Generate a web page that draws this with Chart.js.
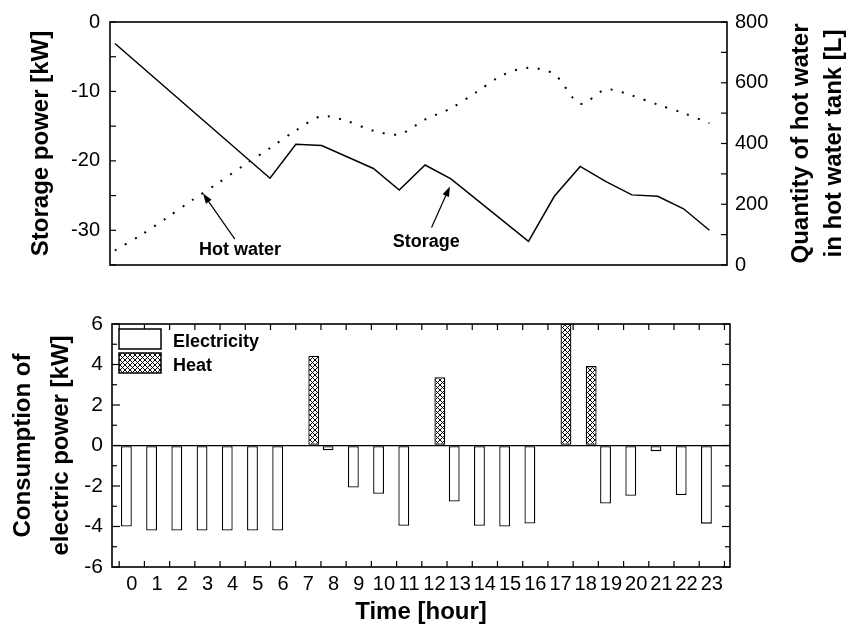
<!DOCTYPE html>
<html>
<head>
<meta charset="utf-8">
<script src="https://cdn.jsdelivr.net/npm/chart.js@4.4.0/dist/chart.umd.min.js"></script>
<style>
  html, body { margin: 0; padding: 0; background: #fff; }
  #wrap { position: relative; width: 849px; height: 632px; }
  #top { position: absolute; left: 0; top: 0; }
  #bottom { position: absolute; left: 0; top: 290px; }
</style>
</head>
<body>
<div id="wrap">
  <canvas id="top" width="849" height="290"></canvas>
  <canvas id="bottom" width="849" height="342"></canvas>
</div>
<script>
// hours of the day
var hours = [0, 1, 2, 3, 4, 5, 6, 7, 8, 9, 10, 11, 12, 13, 14, 15, 16, 17, 18, 19, 20, 21, 22, 23];

// top chart: storage power (vertices of the solid line) and hot water in tank
var storageHours = [0, 6, 7, 8, 10, 11, 12, 13, 16, 17, 18, 19, 20, 21, 22, 23];
var storagePower = [-3.1, -22.5, -17.6, -17.8, -21.1, -24.2, -20.6, -22.6, -31.6, -25.1, -20.8, -23.0, -24.9, -25.1, -26.9, -30.0];
var hotWater = [48, 98, 155, 214, 270, 329, 385, 443, 490, 473, 442, 430, 479, 516, 570, 625, 649, 628, 531, 578, 558, 528, 500, 467];
var storageTicks = [0, -10, -20, -30];
var waterTicks = [0, 200, 400, 600, 800];

// bottom chart: consumption of electric power
var electricity = [-4.0, -4.2, -4.2, -4.2, -4.2, -4.2, -4.2, 0, -0.23, -2.08, -2.38, -3.96, 0, -2.77, -3.96, -4.0, -3.85, 0, 0, -2.87, -2.48, -0.28, -2.45, -3.86];
var heat = [0, 0, 0, 0, 0, 0, 0, 4.43, 0, 0, 0, 0, 3.37, 0, 0, 0, 0, 6.0, 3.92, 0, 0, 0, 0, 0];
var powerTicks = [-6, -4, -2, 0, 2, 4, 6];

Chart.defaults.font.family = "'Liberation Sans', Arial, Helvetica, sans-serif";
Chart.defaults.color = '#000';

function toPoints(xs, ys) {
    return xs.map(function (h, i) { return { x: h, y: ys[i] }; });
}
function setTicks(list) {
    return function (axis) { axis.ticks = list.map(function (v) { return { value: v }; }); };
}
function line(c, x1, y1, x2, y2) {
    c.beginPath(); c.moveTo(x1, y1); c.lineTo(x2, y2); c.stroke();
}
function arrow(c, x1, y1, x2, y2) {
    var ang = Math.atan2(y2 - y1, x2 - x1), L = 10, W = 3.5;
    var cs = Math.cos(ang), sn = Math.sin(ang);
    line(c, x1, y1, x2 - L * 0.8 * cs, y2 - L * 0.8 * sn);
    c.beginPath();
    c.moveTo(x2, y2);
    c.lineTo(x2 - L * cs + W * sn, y2 - L * sn - W * cs);
    c.lineTo(x2 - L * cs - W * sn, y2 - L * sn + W * cs);
    c.closePath();
    c.fill();
}

// cross hatch for heat bars
var pc = document.createElement('canvas');
pc.width = 5; pc.height = 5;
var px = pc.getContext('2d');
px.fillStyle = '#fff'; px.fillRect(0, 0, 5, 5);
px.strokeStyle = '#000'; px.lineWidth = 1;
line(px, 0, 0, 5, 5); line(px, 5, 0, 0, 5);
var hatch = px.createPattern(pc, 'repeat');

var topDecor = {
    id: 'topDecor',
    afterDraw: function (chart) {
        var c = chart.ctx, a = chart.chartArea;
        var x = chart.scales.x, y = chart.scales.y, y2 = chart.scales.y2;
        c.save();
        c.strokeStyle = '#000'; c.fillStyle = '#000';
        c.lineWidth = 1.6;
        c.strokeRect(a.left, a.top, a.right - a.left, a.bottom - a.top);
        c.lineWidth = 1.2;
        for (var v = -35; v <= 0; v += 5) {
            var p = y.getPixelForValue(v);
            line(c, a.left, p, a.left + 6, p);
        }
        for (var w = 0; w <= 800; w += 100) {
            var q = y2.getPixelForValue(w);
            line(c, a.right - 6, q, a.right, q);
        }
        // labels with arrows
        c.font = "bold 18px 'Liberation Sans', Arial, sans-serif";
        c.textBaseline = 'alphabetic';
        c.fillText('Hot water', x.getPixelForValue(3.25), y2.getPixelForValue(33));
        arrow(c, x.getPixelForValue(4.64), y2.getPixelForValue(85), x.getPixelForValue(3.41), y2.getPixelForValue(235));
        c.fillText('Storage', x.getPixelForValue(10.75), y.getPixelForValue(-32.4));
        arrow(c, x.getPixelForValue(12.25), y.getPixelForValue(-29.6), x.getPixelForValue(12.96), y.getPixelForValue(-23.7));
        // right axis title
        c.font = "bold 24px 'Liberation Sans', Arial, sans-serif";
        c.textAlign = 'center'; c.textBaseline = 'middle';
        var cy = (a.top + a.bottom) / 2;
        c.save(); c.translate(801, cy); c.rotate(-Math.PI / 2); c.fillText('Quantity of hot water', 0, 0); c.restore();
        c.save(); c.translate(834, cy); c.rotate(-Math.PI / 2); c.fillText('in hot water tank [L]', 0, 0); c.restore();
        c.restore();
    }
};

var bottomDecor = {
    id: 'bottomDecor',
    afterDraw: function (chart) {
        var c = chart.ctx, a = chart.chartArea;
        var x = chart.scales.x, y = chart.scales.y;
        c.save();
        c.strokeStyle = '#000'; c.fillStyle = '#000';
        c.lineWidth = 1.6;
        c.strokeRect(a.left, a.top, a.right - a.left, a.bottom - a.top);
        c.lineWidth = 1.2;
        for (var v = -6; v <= 6; v++) {
            var p = y.getPixelForValue(v), len = (v % 2 === 0) ? 8 : 5;
            line(c, a.left, p, a.left + len, p);
            line(c, a.right - len, p, a.right, p);
        }
        for (var t = -0.5; t <= 23.5; t++) {
            var q = x.getPixelForValue(t);
            line(c, q, a.bottom, q, a.bottom - 6);
            line(c, q, a.top, q, a.top + 6);
        }
        // legend
        var ds = chart.data.datasets;
        c.lineWidth = 1.5;
        c.fillStyle = ds[0].backgroundColor;
        c.fillRect(119, 39, 42, 20); c.strokeRect(119, 39, 42, 20);
        c.fillStyle = ds[1].backgroundColor;
        c.fillRect(119, 63, 42, 20); c.strokeRect(119, 63, 42, 20);
        c.fillStyle = '#000';
        c.font = "bold 18px 'Liberation Sans', Arial, sans-serif";
        c.textBaseline = 'alphabetic';
        c.fillText(ds[0].label, 173, 56.5);
        c.fillText(ds[1].label, 173, 80.5);
        c.restore();
    }
};

new Chart(document.getElementById('top'), {
    type: 'line',
    data: {
        datasets: [
            {
                label: 'Storage',
                data: toPoints(storageHours, storagePower),
                yAxisID: 'y',
                borderColor: '#000',
                borderWidth: 1.5,
                pointRadius: 0,
                tension: 0,
                fill: false
            },
            {
                label: 'Hot water',
                data: toPoints(hours, hotWater),
                yAxisID: 'y2',
                borderColor: '#000',
                borderWidth: 2,
                borderDash: [2, 9.5],
                pointRadius: 0,
                tension: 0.3,
                fill: false
            }
        ]
    },
    options: {
        responsive: false,
        animation: false,
        layout: { padding: { top: 20, bottom: 25, left: 0, right: 0 } },
        plugins: { legend: { display: false }, tooltip: { enabled: false } },
        scales: {
            x: { type: 'linear', display: false, min: -0.19, max: 23.68 },
            y: {
                type: 'linear', position: 'left', min: -35, max: 0,
                afterBuildTicks: setTicks(storageTicks),
                afterFit: function (s) { s.width = 110; },
                grid: { display: false, drawTicks: false },
                border: { display: false },
                ticks: { padding: 10, font: { size: 20 } },
                title: {
                    display: true, text: 'Storage power [kW]',
                    font: { size: 24, weight: 'bold' },
                    padding: { top: 27, bottom: 0 }
                }
            },
            y2: {
                type: 'linear', position: 'right', min: 0, max: 800,
                afterBuildTicks: setTicks(waterTicks),
                afterFit: function (s) { s.width = 122; },
                grid: { display: false, drawTicks: false },
                border: { display: false },
                ticks: { padding: 8, font: { size: 20 } }
            }
        }
    },
    plugins: [topDecor]
});

new Chart(document.getElementById('bottom'), {
    type: 'bar',
    data: {
        datasets: [
            {
                label: 'Electricity',
                data: toPoints(hours, electricity),
                backgroundColor: '#fff',
                borderColor: '#000',
                borderWidth: 1.3,
                borderSkipped: false,
                categoryPercentage: 0.86,
                barPercentage: 1
            },
            {
                label: 'Heat',
                data: toPoints(hours, heat),
                backgroundColor: hatch,
                borderColor: '#000',
                borderWidth: 1.3,
                borderSkipped: false,
                categoryPercentage: 0.86,
                barPercentage: 1
            }
        ]
    },
    options: {
        responsive: false,
        animation: false,
        layout: { padding: { top: 34, right: 119, left: 0, bottom: 0 } },
        plugins: { legend: { display: false }, tooltip: { enabled: false } },
        scales: {
            x: {
                type: 'linear', min: -0.785, max: 23.72, offset: false,
                afterBuildTicks: setTicks(hours),
                afterFit: function (s) { s.height = 65; },
                grid: { display: false, drawTicks: false, offset: false },
                border: { display: false },
                ticks: {
                    padding: 5, autoSkip: false, maxRotation: 0, minRotation: 0,
                    font: { size: 20, family: "'Liberation Sans Narrow', 'Arial Narrow', 'Liberation Sans', Arial, sans-serif" }
                },
                title: {
                    display: true, text: 'Time [hour]',
                    font: { size: 24, weight: 'bold' },
                    padding: { top: 0, bottom: 5 }
                }
            },
            y: {
                type: 'linear', position: 'left', min: -6, max: 6,
                afterBuildTicks: setTicks(powerTicks),
                afterFit: function (s) { s.width = 112; },
                grid: {
                    display: true, drawTicks: false, lineWidth: 1.3,
                    color: function (ctx) { return ctx.tick && ctx.tick.value === 0 ? '#000' : 'rgba(0,0,0,0)'; }
                },
                border: { display: false },
                ticks: { padding: 9, font: { size: 21 } },
                title: {
                    display: true, text: ['Consumption of', 'electric power [kW]'],
                    font: { size: 24, weight: 'bold', lineHeight: 1.6 },
                    padding: { top: 4, bottom: 0 }
                }
            }
        }
    },
    plugins: [bottomDecor]
});
</script>
</body>
</html>
